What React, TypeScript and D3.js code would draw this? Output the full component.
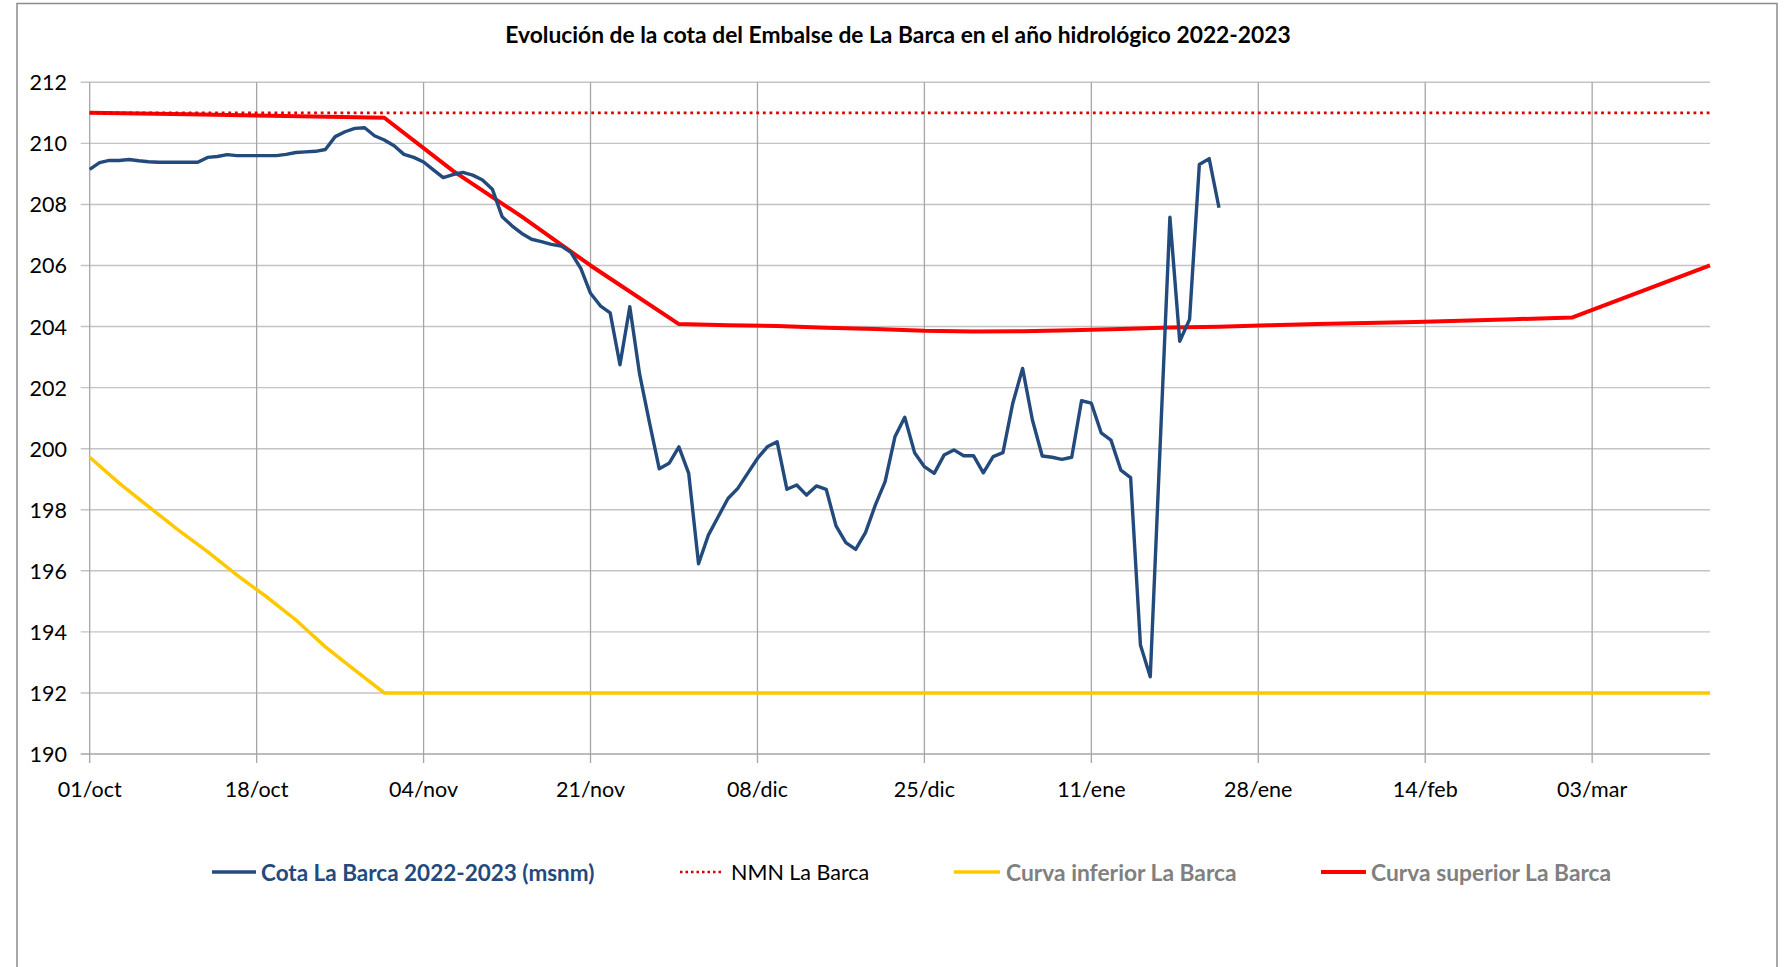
import React from 'react';
import * as d3 from 'd3';

// cota diaria La Barca (msnm), desde el 01/oct/2022
const START = '2022-10-01';
const END = '2023-03-15';
const cotaValues = [
	209.15, 209.37, 209.44, 209.44, 209.47, 209.43, 209.4, 209.38, 209.38, 209.38,
	209.38, 209.38, 209.54, 209.57, 209.63, 209.6, 209.6, 209.6, 209.6, 209.6,
	209.64, 209.7, 209.72, 209.74, 209.8, 210.22, 210.38, 210.49, 210.51, 210.25,
	210.11, 209.92, 209.64, 209.54, 209.39, 209.13, 208.88, 208.98, 209.05, 208.96,
	208.8, 208.5, 207.6, 207.3, 207.05, 206.86, 206.78, 206.69, 206.64, 206.43,
	205.91, 205.09, 204.68, 204.45, 202.75, 204.65, 202.44, 200.86, 199.34, 199.52,
	200.06, 199.19, 196.23, 197.17, 197.77, 198.37, 198.7, 199.19, 199.68, 200.06,
	200.23, 198.67, 198.81, 198.48, 198.78, 198.67, 197.47, 196.92, 196.7, 197.25,
	198.15, 198.92, 200.39, 201.03, 199.87, 199.41, 199.19, 199.79, 199.96, 199.77,
	199.77, 199.21, 199.74, 199.87, 201.49, 202.63, 200.94, 199.76, 199.72, 199.65,
	199.72, 201.57, 201.49, 200.52, 200.28, 199.3, 199.05, 193.57, 192.53, 200.05,
	207.58, 203.52, 204.23, 209.31, 209.5, 207.89,
];

// NMN
const nmnDates = ['2022-10-01', '2023-03-15'];
const nmnValues = [211, 211];

// curva inferior
const infDates = ['2022-10-01', '2022-10-04', '2022-10-07', '2022-10-10', '2022-10-13', '2022-10-16', '2022-10-19', '2022-10-22', '2022-10-25', '2022-10-28', '2022-10-31', '2023-03-15'];
const infValues = [199.72, 198.87, 198.1, 197.34, 196.63, 195.86, 195.15, 194.39, 193.51, 192.75, 192.0, 192.0];

// curva superior
const supDates = ['2022-10-01', '2022-10-11', '2022-10-21', '2022-10-31', '2022-11-07', '2022-11-14', '2022-11-21', '2022-11-30', '2022-12-05', '2022-12-10', '2022-12-15', '2022-12-20', '2022-12-25', '2022-12-30', '2023-01-04', '2023-01-09', '2023-01-14', '2023-01-19', '2023-01-24', '2023-01-29', '2023-02-03', '2023-02-13', '2023-02-23', '2023-03-01', '2023-03-08', '2023-03-15'];
const supValues = [211.0, 210.95, 210.9, 210.84, 209.1, 207.6, 206.0, 204.08, 204.04, 204.02, 203.96, 203.92, 203.86, 203.84, 203.85, 203.88, 203.92, 203.97, 203.99, 204.04, 204.08, 204.15, 204.24, 204.3, 205.15, 206.0];

const yTicks = [190, 192, 194, 196, 198, 200, 202, 204, 206, 208, 210, 212];
const xTickDates = ['2022-10-01', '2022-10-18', '2022-11-04', '2022-11-21', '2022-12-08', '2022-12-25', '2023-01-11', '2023-01-28', '2023-02-14', '2023-03-03'];
const xTickLabels = ['01/oct', '18/oct', '04/nov', '21/nov', '08/dic', '25/dic', '11/ene', '28/ene', '14/feb', '03/mar'];

const TITLE = 'Evolución de la cota del Embalse de La Barca en el año hidrológico 2022-2023';

const BLUE = '#234a7c';
const RED = '#ff0000';
const YELLOW = '#ffc800';
const FONT = 'Lato, "Open Sans", sans-serif';

const W = 1790;
const H = 967;
const plot = { left: 89.7, right: 1710, top: 82.3, bottom: 754 };

const parse = (s: string) => new Date(s + 'T00:00:00Z');

export default function App() {
	const x = d3.scaleUtc().domain([parse(START), parse(END)]).range([plot.left, plot.right]);
	const y = d3.scaleLinear().domain([190, 212]).range([plot.bottom, plot.top]);

	const line = d3
		.line<[Date, number]>()
		.x((d) => x(d[0]))
		.y((d) => y(d[1]));

	const cota: [Date, number][] = cotaValues.map((v, i) => [d3.utcDay.offset(parse(START), i), v]);
	const nmn: [Date, number][] = nmnDates.map((d, i) => [parse(d), nmnValues[i]]);
	const inf: [Date, number][] = infDates.map((d, i) => [parse(d), infValues[i]]);
	const sup: [Date, number][] = supDates.map((d, i) => [parse(d), supValues[i]]);

	// legend
	const legendY = 872;
	const legend = [
		{ x0: 212, x1: 256, tx: 261, label: 'Cota La Barca 2022-2023 (msnm)', color: BLUE, text: BLUE, weight: 700, size: 22.5, w: 3.5, dash: '' },
		{ x0: 680, x1: 722, tx: 731, label: 'NMN La Barca', color: '#d00000', text: '#000', weight: 400, size: 21.5, w: 2.5, dash: '2.5 3' },
		{ x0: 954, x1: 1000, tx: 1006, label: 'Curva inferior La Barca', color: YELLOW, text: '#808080', weight: 700, size: 22.8, w: 3.5, dash: '' },
		{ x0: 1321, x1: 1366, tx: 1371, label: 'Curva superior La Barca', color: RED, text: '#808080', weight: 700, size: 22.8, w: 4, dash: '' },
	];

	return (
		<svg
			width={W}
			height={H}
			style={{ position: 'absolute', left: 0, top: 0, background: '#fff', fontFamily: FONT }}>
			<rect x={17} y={3.5} width={1760} height={990} fill="#fff" stroke="#8c8c8c" strokeWidth={1.5} />

			<text x={898} y={34} textAnchor="middle" dominantBaseline="central" fontSize={22.8} fontWeight={700} fill="#000">
				{TITLE}
			</text>

			{/* horizontal grid */}
			<g>
				{yTicks.map((t) => (
					<g key={t}>
						<line x1={plot.left - 9} x2={plot.right} y1={y(t)} y2={y(t)} stroke={t === 190 ? '#a6a6a6' : '#c4c4c4'} strokeWidth={1.4} />
						<text x={67} y={y(t)} textAnchor="end" dominantBaseline="central" fontSize={21.5} fill="#000">
							{t}
						</text>
					</g>
				))}
			</g>

			{/* vertical grid */}
			<g>
				{xTickDates.map((d, i) => (
					<g key={d}>
						<line x1={x(parse(d))} x2={x(parse(d))} y1={plot.top} y2={plot.bottom + 9} stroke="#a6a6a6" strokeWidth={1.3} />
						<text x={x(parse(d))} y={789} textAnchor="middle" dominantBaseline="central" fontSize={21.5} fill="#000">
							{xTickLabels[i]}
						</text>
					</g>
				))}
			</g>

			<path d={line(inf) || ''} fill="none" stroke={YELLOW} strokeWidth={3.5} />
			<path d={line(sup) || ''} fill="none" stroke={RED} strokeWidth={4} strokeLinejoin="round" />
			<path d={line(nmn) || ''} fill="none" stroke="#e00000" strokeWidth={2.8} strokeDasharray="2.8 3.8" />
			<path d={line(cota) || ''} fill="none" stroke={BLUE} strokeWidth={3.4} strokeLinejoin="round" />

			<g>
				{legend.map((l) => (
					<g key={l.label}>
						<line x1={l.x0} x2={l.x1} y1={legendY} y2={legendY} stroke={l.color} strokeWidth={l.w} strokeDasharray={l.dash} />
						<text x={l.tx} y={legendY} dominantBaseline="central" fontSize={l.size} fontWeight={l.weight} fill={l.text}>
							{l.label}
						</text>
					</g>
				))}
			</g>
		</svg>
	);
}
